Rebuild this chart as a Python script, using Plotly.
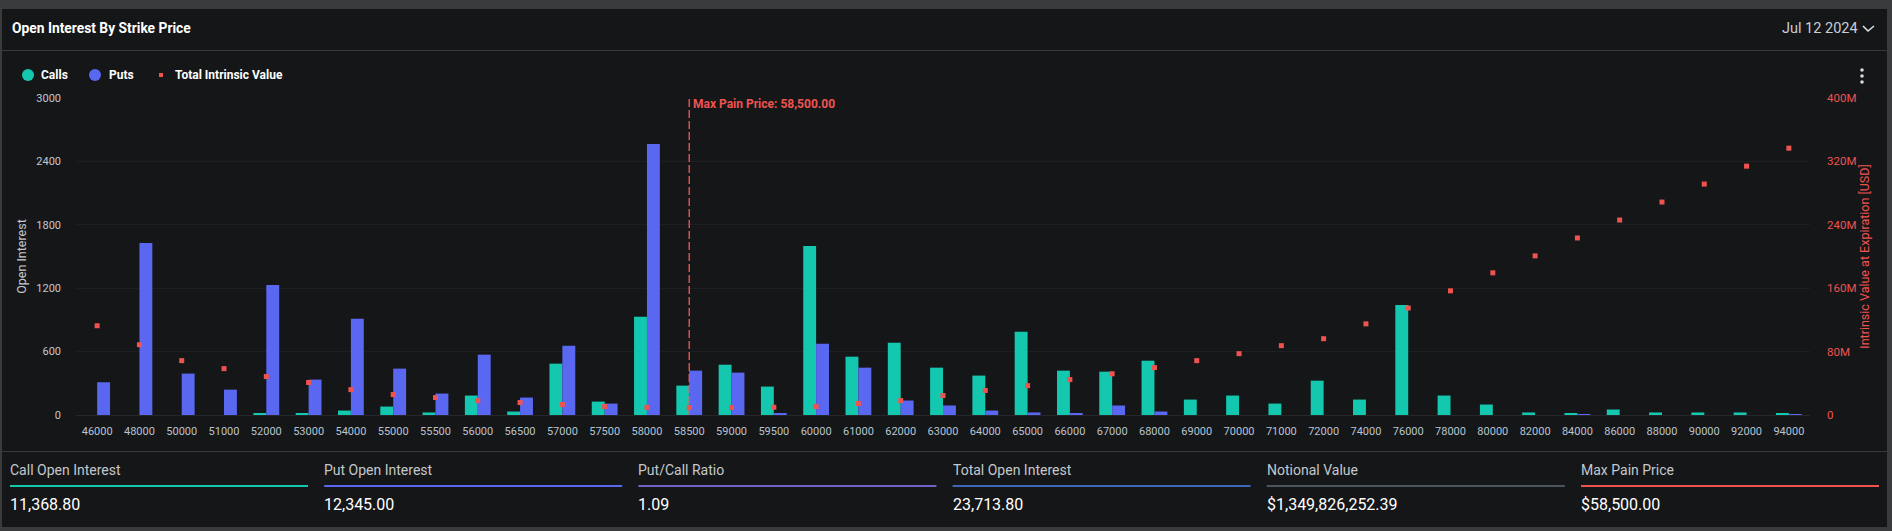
import plotly.graph_objects as go

strikes = ["46000", "48000", "50000", "51000", "52000", "53000", "54000", "55000", "55500", "56000",
           "56500", "57000", "57500", "58000", "58500", "59000", "59500", "60000", "61000", "62000",
           "63000", "64000", "65000", "66000", "67000", "68000", "69000", "70000", "71000", "72000",
           "74000", "76000", "78000", "80000", "82000", "84000", "86000", "88000", "90000", "92000", "94000"]
calls = [0, 0, 0, 0, 12, 12, 42, 80, 24, 184,
         33, 486, 127, 929, 278, 476, 269, 1599, 552, 684,
         448, 373, 787, 420, 410, 514, 146, 184, 108, 325,
         146, 1042, 184, 99, 24, 12, 52, 24, 24, 24, 12]
puts = [310, 1627, 392, 240, 1231, 335, 910, 439, 203, 571,
        165, 656, 108, 2565, 420, 401, 12, 675, 448, 137,
        90, 42, 24, 10, 90, 33, 0, 0, 0, 0,
        0, 0, 0, 0, 0, 2, 0, 0, 0, 0, 2]
intrinsic = [112.6, 88.7, 68.6, 58.5, 48.5, 41, 32, 25.8, 22, 18.2,
             15.7, 13.2, 10.7, 9.7, 9.5, 9.5, 9.8, 10.7, 14.5, 18.2,
             24.5, 31, 37, 44.7, 52, 59.8, 68.6, 77.4, 87.5, 96.3,
             115, 135, 156.7, 179.4, 200.8, 223.4, 246, 268.7, 291.4, 314, 336.7]
intrinsic = [v * 1e6 for v in intrinsic]

max_pain_strike = "58500"
oi_ticks = [0, 600, 1200, 1800, 2400, 3000]
value_ticks = [0, 80e6, 160e6, 240e6, 320e6, 400e6]
value_labels = ["0", "80M", "160M", "240M", "320M", "400M"]

stat_labels = ["Call Open Interest", "Put Open Interest", "Put/Call Ratio",
               "Total Open Interest", "Notional Value", "Max Pain Price"]
stat_values = ["11,368.80", "12,345.00", "1.09", "23,713.80", "$1,349,826,252.39", "$58,500.00"]
stat_colors = ["#14c8b0", "#5a67f0", "#7260c8", "#3f66b8", "#4d5560", "#ef5350"]

TEAL = "#14c8b0"
BLUE = "#5a67f0"
RED = "#ef5350"
W, H = 1892, 531
FONT = "Roboto"

fig = go.Figure()
fig.add_trace(go.Bar(x=strikes, y=calls, name="Calls", marker_color=TEAL, marker_line_width=0))
fig.add_trace(go.Bar(x=strikes, y=puts, name="Puts", marker_color=BLUE, marker_line_width=0))
fig.add_trace(go.Scatter(x=[max_pain_strike, max_pain_strike], y=[oi_ticks[0], oi_ticks[-1]], mode="lines",
                         line=dict(color=RED, width=1.4, dash="8px,3px"), name="Max Pain"))
fig.add_trace(go.Scatter(x=strikes, y=intrinsic, mode="markers", yaxis="y2", name="Total Intrinsic Value",
                         marker=dict(symbol="square", size=5, color=RED)))


# helpers take page pixels, the paper coordinates are worked out from the margins
ML, MR, MT, MB = 76, 82, 98, 116


def px(x):
    return (x - ML) / (W - ML - MR)


def py(y):
    return 1 - (y - MT) / (H - MT - MB)


def text(x, y, s, size=12, color="#ffffff", bold=False, anchor="left"):
    # annotations keep a small pad around the text
    shift = -2 if anchor == "left" else 2
    fig.add_annotation(x=px(x), y=py(y), xref="paper", yref="paper", text=f"<b>{s}</b>" if bold else s,
                       showarrow=False, xanchor=anchor, yanchor="middle", xshift=shift,
                       font=dict(family=FONT, size=size, color=color))


def rect(x0, y0, x1, y1, color):
    fig.add_shape(type="rect", xref="paper", yref="paper", x0=px(x0), x1=px(x1), y0=py(y0), y1=py(y1),
                  fillcolor=color, line_width=0, layer="below")


def circle(cx, cy, r, color):
    fig.add_shape(type="circle", xref="paper", yref="paper", x0=px(cx - r), x1=px(cx + r),
                  y0=py(cy - r), y1=py(cy + r), fillcolor=color, line_width=0)


# card
rect(2, 9, 1887, 527, "#151618")
rect(2, 50, 1887, 51, "#38393c")
rect(2, 451, 1887, 452, "#38393c")

text(12, 28, "Open Interest By Strike Price", size=13.8, bold=True)
text(1858, 28, "Jul 12 2024", size=14.5, color="#c9ced4", anchor="right")
fig.add_shape(type="path", xref="paper", yref="paper", line=dict(color="#dfe3e6", width=1.5),
              path=f"M {px(1863)} {py(26)} L {px(1868)} {py(31)} L {px(1874)} {py(26)}")
for dot_y in (70, 76, 82):
    circle(1862, dot_y, 1.8, "#d6d8da")

# legend
circle(28, 75, 6, TEAL)
text(41, 75, "Calls", size=12, bold=True)
circle(95, 75, 6, BLUE)
text(109, 75, "Puts", size=12, bold=True)
rect(159, 73, 163, 77, RED)
text(175, 75, "Total Intrinsic Value", size=12, bold=True)

text(693, 104, "Max Pain Price: 58,500.00", size=12, color=RED, bold=True)

# stat boxes
for i in range(6):
    left = 10 + i * 314.2
    text(left, 470, stat_labels[i], size=14, color="#c4c8cc")
    rect(left, 485, left + 298, 487, stat_colors[i])
    text(left, 504, stat_values[i], size=16, color="#ffffff")

fig.update_layout(
    width=W, height=H,
    margin=dict(l=ML, r=MR, t=MT, b=MB, pad=0),
    paper_bgcolor="#3a3b3d",
    plot_bgcolor="rgba(0,0,0,0)",
    barmode="group", bargap=0.39, bargroupgap=0,
    showlegend=False,
    font=dict(family=FONT, size=11, color="#c4c8cc"),
    xaxis=dict(type="category", categoryorder="array", categoryarray=strikes, showgrid=False,
               range=[-0.5, len(strikes) - 0.5], tickangle=0, ticks="", ticklabelstandoff=6,
               tickfont=dict(size=11, color="#b8c4d0"),
               showline=True, linecolor="#25272a", linewidth=1, zeroline=False),
    yaxis=dict(range=[0, 3000], tickvals=oi_ticks, gridcolor="#1e1f22", zeroline=False, ticks="",
               ticklabelstandoff=14, tickfont=dict(size=11, color="#c4c8cc"),
               title=dict(text="Open Interest", standoff=6, font=dict(size=12.5, color="#c4c8cc"))),
    yaxis2=dict(range=[0, 400e6], tickvals=value_ticks, ticktext=value_labels, overlaying="y", side="right",
                showgrid=False, zeroline=False, ticks="", ticklabelstandoff=16,
                tickfont=dict(size=11.5, color=RED),
                title=dict(text="Intrinsic Value at Expiration [USD]", standoff=4,
                           font=dict(size=12.5, color=RED))),
)

fig.write_html("out.html", config={"displayModeBar": False},
               post_script="document.body.style.margin='0';")
